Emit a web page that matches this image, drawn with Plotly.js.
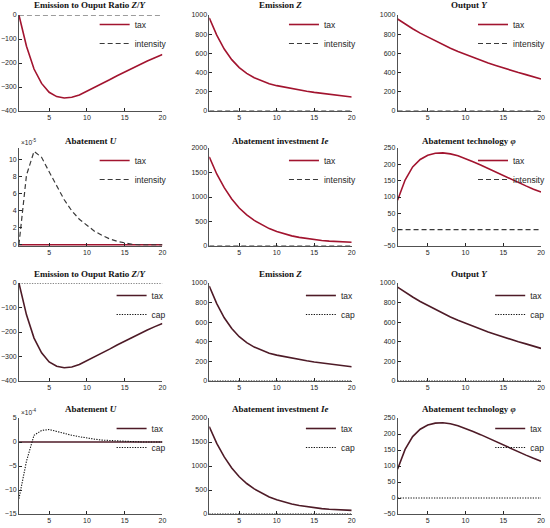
<!DOCTYPE html>
<html>
<head>
<meta charset="utf-8">
<script src="https://cdn.plot.ly/plotly-3.0.1.min.js"></script>
<style>html,body{margin:0;padding:0;background:#fff;}#chart{width:550px;height:528px;}</style>
</head>
<body>
<div id="chart"></div>
<script>
// ---- data ----
const periods = [1,2,3,4,5,6,7,8,9,10,11,12,13,14,15,16,17,18,19,20];
const xTicks = [5,10,15,20];

const taxZY  = [0,-130,-225,-285,-322,-340,-346,-343,-333,-318,-302,-286,-270,-253,-237,-221,-206,-192,-178,-165];
const taxZ   = [970,790,645,535,452,392,346,311,284,264,248,233,219,206,194,183,173,163,154,145];
const taxY   = [958,905,857,811,770,728,690,653,620,588,557,528,500,474,448,424,401,379,357,333];
const taxU   = [0,0,0,0,0,0,0,0,0,0,0,0,0,0,0,0,0,0,0,0];
const taxIe  = [1820,1470,1190,960,775,635,522,430,355,295,245,207,176,150,128,112,100,90,82,75];
const taxPhi = [90,152,192,215,228,234,235,232,226,218,208,198,187,176,165,154,144,134,124,115];

const intZY  = [0,0,0,0,0,0,0,0,0,0,0,0,0,0,0,0,0,0,0,0];
const intZ   = [0,0,0,0,0,0,0,0,0,0,0,0,0,0,0,0,0,0,0,0];
const intY   = [0,0,0,0,0,0,0,0,0,0,0,0,0,0,0,0,0,0,0,0];
const intU   = [0,8.2,11.0,10.3,8.6,6.9,5.3,4.0,3.0,2.3,1.6,1.1,0.7,0.4,0.2,0.05,0,0,0,0]; // x 1e-5
const intIe  = [0,0,0,0,0,0,0,0,0,0,0,0,0,0,0,0,0,0,0,0];
const intPhi = [0,0,0,0,0,0,0,0,0,0,0,0,0,0,0,0,0,0,0,0];

const capZY  = [0,0,0,0,0,0,0,0,0,0,0,0,0,0,0,0,0,0,0,0];
const capZ   = [0,0,0,0,0,0,0,0,0,0,0,0,0,0,0,0,0,0,0,0];
const capY   = [0,0,0,0,0,0,0,0,0,0,0,0,0,0,0,0,0,0,0,0];
const capU   = [-11.8,-4.0,1.4,2.4,2.6,2.2,1.7,1.4,1.1,0.8,0.6,0.4,0.3,0.2,0.1,0.05,0.02,0,0,0]; // x 1e-4
const capIe  = [0,0,0,0,0,0,0,0,0,0,0,0,0,0,0,0,0,0,0,0];
const capPhi = [0,0,0,0,0,0,0,0,0,0,0,0,0,0,0,0,0,0,0,0];

const titles = [
  'Emission to Ouput Ratio <i>Z</i>/<i>Y</i>', 'Emission <i>Z</i>', 'Output <i>Y</i>',
  'Abatement <i>U</i>', 'Abatement investment <i>Ie</i>', 'Abatement technology <i>φ</i>'
];

// ---- layout helpers ----
const W = 550, H = 528;
const colPx = [[19,163],[210,353],[399,543]];
const rowPx = [[15,111],[148,246],[283,381],[418,514]];
const legendPx = [ // [left x of legend line, y of first entry]
  [98,26],[288,26],[478,26],
  [98,162],[288,162],[478,162],
  [115,297],[305,297],[495,297],
  [115,430],[305,430],[495,430]
];
const yRanges = [[-400,0],[0,1000],[0,1000],[-0.15,11.4],[0,2000],[-50,250]];
const yRangesB = [[-400,0],[0,1000],[0,1000],[-15,5],[0,2000],[-50,250]];
const yTickVals = [[-400,-300,-200,-100,0],[0,200,400,600,800,1000],[0,200,400,600,800,1000],
                   [0,2,4,6,8,10],[0,500,1000,1500,2000],[-50,0,50,100,150,200,250]];
const yTickValsB = [[-400,-300,-200,-100,0],[0,200,400,600,800,1000],[0,200,400,600,800,1000],
                   [-15,-10,-5,0,5],[0,500,1000,1500,2000],[-50,0,50,100,150,200,250]];

const taxSeries = [taxZY,taxZ,taxY,taxU,taxIe,taxPhi];
const intSeries = [intZY,intZ,intY,intU,intIe,intPhi];
const capSeries = [capZY,capZ,capY,capU,capIe,capPhi];

const TAX_TOP = '#a2142f', TAX_BOT = '#4e1b27';
const AX = '#262626';

const data = [];
const layout = {
  width: W, height: H, margin: {l:0,r:0,t:0,b:0},
  paper_bgcolor: '#fff', plot_bgcolor: '#fff',
  font: {family: 'Liberation Sans, Arial, sans-serif', color: AX, size: 8},
  annotations: [], showlegend: true
};

for (let k = 0; k < 12; k++) {
  const n = k + 1;
  const row = Math.floor(k / 3), col = k % 3;
  const p = k % 6;               // panel type
  const bottom = k >= 6;
  const xa = 'xaxis' + (n === 1 ? '' : n), ya = 'yaxis' + (n === 1 ? '' : n);
  const xr = 'x' + (n === 1 ? '' : n), yr = 'y' + (n === 1 ? '' : n);
  const lg = 'legend' + (n === 1 ? '' : n);

  layout[xa] = {
    domain: [colPx[col][0]/W, colPx[col][1]/W], anchor: yr,
    range: [1,20], tickvals: xTicks, ticks: 'inside', ticklen: 3, tickcolor: AX,
    showline: true, linecolor: AX, linewidth: 0.8, showgrid: false, zeroline: false,
    tickfont: {size: 7, color: AX}, fixedrange: true
  };
  layout[ya] = {
    domain: [1 - rowPx[row][1]/H, 1 - rowPx[row][0]/H], anchor: xr,
    range: (bottom ? yRangesB : yRanges)[p], tickvals: (bottom ? yTickValsB : yTickVals)[p],
    ticks: 'inside', ticklen: 3, tickcolor: AX,
    showline: true, linecolor: AX, linewidth: 0.8, showgrid: false, zeroline: false,
    tickfont: {size: 7, color: AX}, fixedrange: true
  };

  const second = bottom ? capSeries[p] : intSeries[p];
  data.push({
    x: periods, y: taxSeries[p], xaxis: xr, yaxis: yr, legend: lg,
    type: 'scatter', mode: 'lines', name: 'tax',
    line: {color: bottom ? TAX_BOT : TAX_TOP, width: 1.6}
  });
  data.push({
    x: periods, y: second, xaxis: xr, yaxis: yr, legend: lg,
    type: 'scatter', mode: 'lines', name: bottom ? 'cap' : 'intensity',
    line: bottom ? {color: '#111', width: 1.1, dash: '1.3px,1.3px'}
                 : {color: '#3a3a3a', width: 1.2, dash: '5px,3px'}
  });

  const L = legendPx[k];
  layout[lg] = {
    x: (L[0] - 3)/W, xanchor: 'left', xref: 'paper',
    y: 1 - (L[1] - 16)/H, yanchor: 'top', yref: 'paper',
    bgcolor: 'rgba(0,0,0,0)', borderwidth: 0, itemwidth: 30,
    font: {size: 8.5, color: AX}, tracegroupgap: 0
  };

  const tShift = [8, 5, 7, 7][row];
  layout.annotations.push({
    text: titles[p], xref: xr + ' domain', yref: yr + ' domain', x: 0.5, y: 1,
    xanchor: 'center', yanchor: 'bottom', yshift: tShift - 5, showarrow: false,
    font: {family: 'Liberation Serif, Times New Roman, serif', size: 9, color: '#111', weight: 'bold'}
  });
  if (p === 3) {
    layout.annotations.push({
      text: bottom ? '×10<sup>-4</sup>' : '×10<sup>-5</sup>',
      xref: xr + ' domain', yref: yr + ' domain', x: 0, y: 1,
      xanchor: 'left', yanchor: 'bottom', yshift: 0, showarrow: false,
      font: {size: 6.5, color: AX}
    });
  }
}

Plotly.newPlot('chart', data, layout, {staticPlot: true, displayModeBar: false});
</script>
</body>
</html>
